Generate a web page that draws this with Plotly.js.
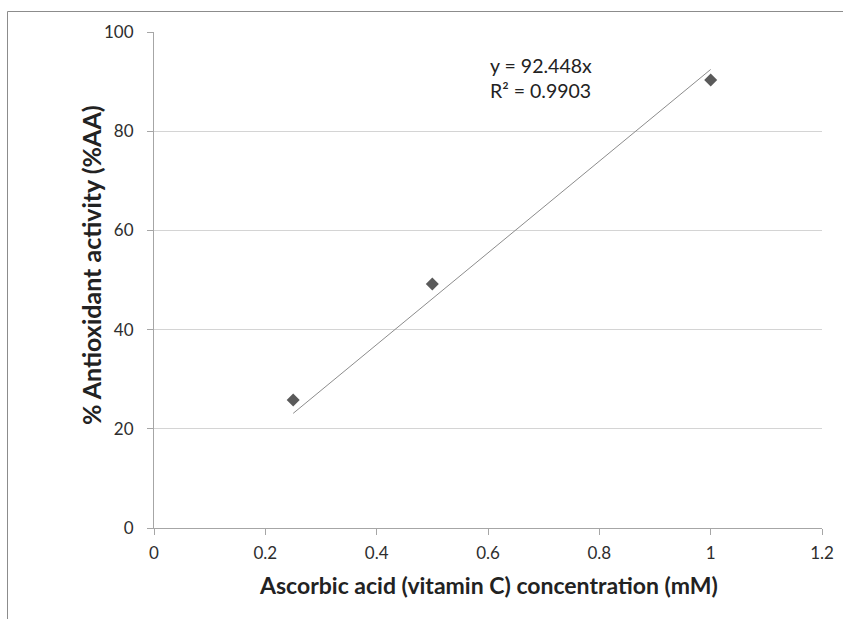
<!DOCTYPE html>
<html>
<head>
<meta charset="utf-8">
<script src="https://cdn.plot.ly/plotly-3.0.1.min.js"></script>
<style>html,body{margin:0;padding:0;background:#fff;}#chart{width:843px;height:619px;}</style>
</head>
<body>
<div id="chart"></div>
<script>
const concentration = [0.25, 0.5, 1.0];
const activity = [25.8, 49.2, 90.3];
const slope = 92.448;
const trendX = [0.25, 1.0];
const trendY = trendX.map(x => slope * x);
const xTicks = [0, 0.2, 0.4, 0.6, 0.8, 1, 1.2];
const yTicks = [0, 20, 40, 60, 80, 100];
const eqText = "y = 92.448x";
const r2Text = "R² = 0.9903";
const xTitle = "Ascorbic acid (vitamin C) concentration (mM)";
const yTitle = "% Antioxidant activity (%AA)";

const font = "Lato, 'Open Sans', sans-serif";
const L = 154, T = 32, W = 668, H = 496;
const px = v => (v - L) / W;
const py = v => (T + H - v) / H;
const traces = [
  {x: trendX, y: trendY, mode: "lines", line: {color: "#8c8c8c", width: 1}, hoverinfo: "skip", showlegend: false},
  {x: concentration, y: activity, mode: "markers", marker: {symbol: "diamond", size: 10, color: "#5a5a5a"}, showlegend: false}
];
const layout = {
  width: 843, height: 619,
  margin: {l: 154, r: 21, t: 32, b: 91},
  paper_bgcolor: "#fff", plot_bgcolor: "#fff",
  font: {family: font, color: "#333", size: 14},
  showlegend: false,
  xaxis: {
    range: [0, 1.2], tickvals: xTicks, ticktext: xTicks.map(String),
    showgrid: false, zeroline: false, showline: true, linecolor: "#a6a6a6", linewidth: 1,
    ticks: "outside", ticklen: 6, tickcolor: "#a6a6a6", ticklabelstandoff: 4,
    tickfont: {family: font, size: 17, color: "#2e2e2e"}
  },
  yaxis: {
    range: [0, 100], tickvals: yTicks, ticktext: yTicks.map(String),
    showgrid: true, gridcolor: "#d4d4d4", gridwidth: 1, zeroline: false,
    showline: true, linecolor: "#a6a6a6", linewidth: 1,
    ticks: "outside", ticklen: 6, tickcolor: "#a6a6a6", ticklabelstandoff: 10,
    tickfont: {family: font, size: 17, color: "#2e2e2e"}
  },
  annotations: [
    {xref: "paper", yref: "paper", x: px(488), y: py(585), xanchor: "center", yanchor: "middle", text: "<b>" + xTitle + "</b>", showarrow: false, font: {family: font, size: 23, color: "#222"}},
    {xref: "paper", yref: "paper", x: px(91), y: py(265), xanchor: "center", yanchor: "middle", textangle: -90, text: "<b>" + yTitle + "</b>", showarrow: false, font: {family: font, size: 25, color: "#222"}},
    {xref: "paper", yref: "paper", x: px(488), y: py(65), xanchor: "left", yanchor: "middle", text: eqText, showarrow: false, font: {family: font, size: 19.5, color: "#222"}},
    {xref: "paper", yref: "paper", x: px(488), y: py(90), xanchor: "left", yanchor: "middle", text: r2Text, showarrow: false, font: {family: font, size: 19.5, color: "#222"}}
  ],
  shapes: [
    {type: "line", xref: "paper", yref: "paper", x0: px(7.5), x1: px(845), y0: py(11.5), y1: py(11.5), line: {color: "#8c8c8c", width: 1}},
    {type: "line", xref: "paper", yref: "paper", x0: px(7.5), x1: px(7.5), y0: py(11.5), y1: py(625), line: {color: "#8c8c8c", width: 1}}
  ]
};
Plotly.newPlot("chart", traces, layout, {displayModeBar: false, staticPlot: true});
</script>
</body>
</html>
